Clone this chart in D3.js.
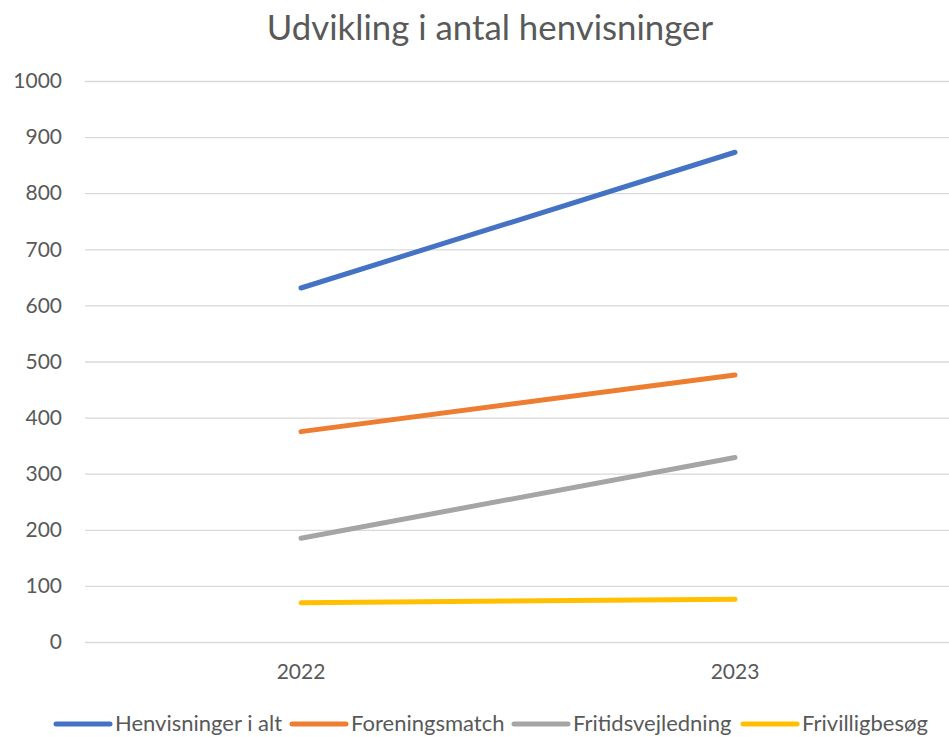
<!DOCTYPE html>
<html><head><meta charset="utf-8">
<script src="https://cdn.jsdelivr.net/npm/d3@7"></script>
<style>body{margin:0;background:#fff}svg{display:block;font-family:Lato,"Noto Sans",sans-serif}</style>
</head><body><svg id="c" width="949" height="737"></svg>
<script>
const categories = ["2022", "2023"];
const seriesNames = ["Henvisninger i alt", "Foreningsmatch", "Fritidsvejledning", "Frivilligbesøg"];
const henvisninger = [631, 873];
const foreningsmatch = [375, 476];
const fritidsvejledning = [185, 329];
const frivilligbesog = [70, 76];
const yTicks = [0, 100, 200, 300, 400, 500, 600, 700, 800, 900, 1000];
const colors = ["#4472C4", "#ED7D31", "#A5A5A5", "#FFC000"];
const series = [henvisninger, foreningsmatch, fritidsvejledning, frivilligbesog];

const svg = d3.select("#c");
const x = d3.scaleBand().domain(categories).range([84, 952]);
const y = d3.scaleLinear().domain([0, 1000]).range([642, 81]);

svg.append("text").attr("x", 490).attr("y", 40).attr("text-anchor", "middle")
  .attr("font-size", 34.8).attr("fill", "#595959").text("Udvikling i antal henvisninger");

const yAxis = svg.append("g").attr("transform", "translate(85,0)")
  .call(d3.axisLeft(y).tickValues(yTicks).tickFormat(d3.format("d")).tickSize(-867).tickPadding(23));
yAxis.select(".domain").remove();
yAxis.selectAll(".tick line").attr("stroke", "#D9D9D9").attr("stroke-width", 1.3);
yAxis.selectAll(".tick text").attr("fill", "#595959").attr("font-size", 21).attr("font-family", "Lato");

const xAxis = svg.append("g").attr("transform", "translate(0,642)")
  .call(d3.axisBottom(x).tickSize(0).tickPadding(22));
xAxis.select(".domain").remove();
xAxis.selectAll(".tick text").attr("fill", "#595959").attr("font-size", 21).attr("font-family", "Lato");

const line = d3.line().x((d, i) => x(categories[i]) + x.bandwidth() / 2).y(d => y(d));
series.forEach((s, k) => {
  svg.append("path").datum(s).attr("d", line).attr("fill", "none")
    .attr("stroke", colors[k]).attr("stroke-width", 5).attr("stroke-linecap", "round");
});

const legendX = [56, 292, 514, 743];
const lg = svg.append("g");
seriesNames.forEach((n, k) => {
  lg.append("line").attr("x1", legendX[k]).attr("x2", legendX[k] + 54).attr("y1", 724).attr("y2", 724)
    .attr("stroke", colors[k]).attr("stroke-width", 5).attr("stroke-linecap", "round");
  lg.append("text").attr("x", legendX[k] + 59).attr("y", 731).attr("font-size", 22)
    .attr("fill", "#595959").text(n);
});
</script></body></html>
